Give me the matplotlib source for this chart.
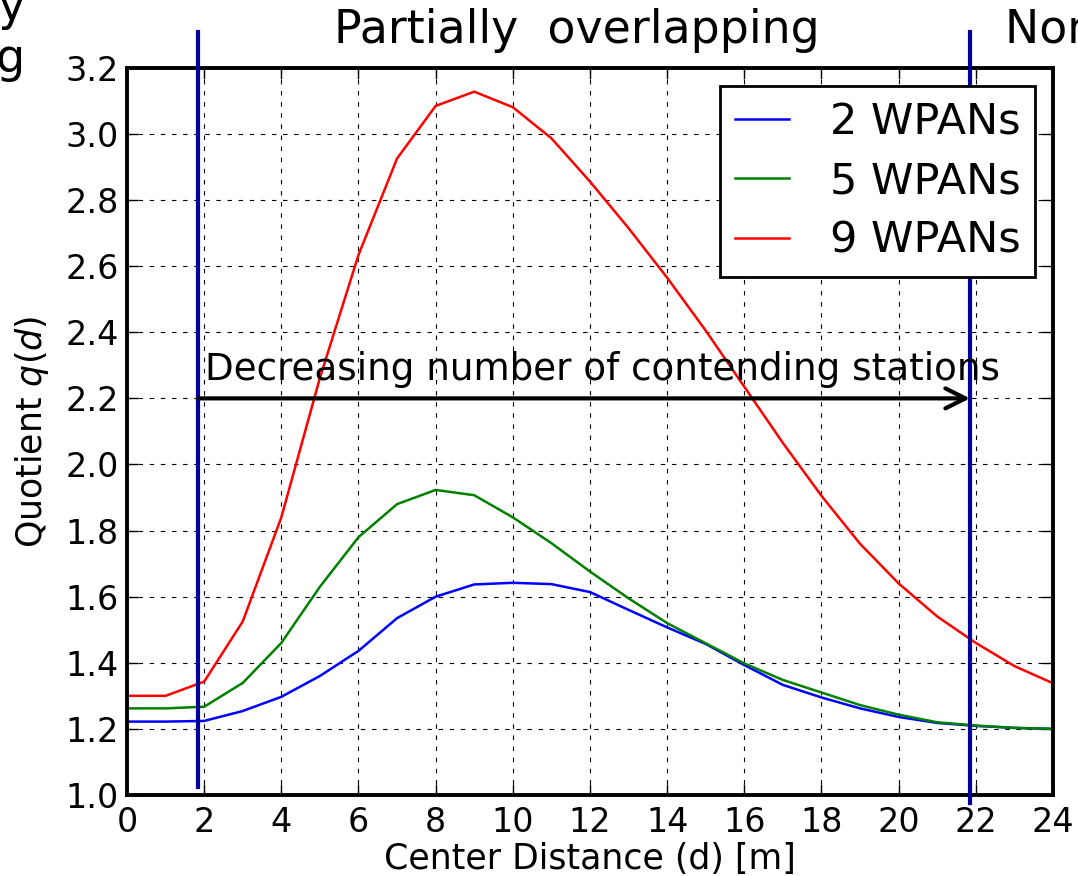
import matplotlib
matplotlib.use("Agg")
import matplotlib.pyplot as plt

# distances and quotient values
distance = list(range(0, 25))
q_2wpan = [1.222, 1.222, 1.224, 1.254, 1.297, 1.360, 1.436, 1.535, 1.600, 1.637,
           1.642, 1.638, 1.614, 1.560, 1.507, 1.457, 1.393, 1.333, 1.295, 1.262,
           1.236, 1.218, 1.209, 1.203, 1.200]
q_5wpan = [1.262, 1.262, 1.267, 1.339, 1.460, 1.630, 1.780, 1.880, 1.923, 1.907,
           1.840, 1.762, 1.676, 1.595, 1.520, 1.459, 1.398, 1.348, 1.310, 1.272,
           1.243, 1.220, 1.210, 1.203, 1.200]
q_9wpan = [1.300, 1.300, 1.343, 1.525, 1.840, 2.262, 2.634, 2.926, 3.085, 3.128,
           3.081, 2.987, 2.856, 2.715, 2.565, 2.405, 2.235, 2.065, 1.905, 1.760,
           1.640, 1.540, 1.460, 1.390, 1.338]
labels = ["2 WPANs", "5 WPANs", "9 WPANs"]
colors = ["#0000ff", "#008000", "#ff0000"]

# region borders (vertical markers)
border_x = [1.84, 21.85]
border_y_top = [3.31, 3.31]
border_y_bottom = [1.024, 0.976]

fig = plt.figure(figsize=(10.78, 8.76), dpi=100)
ax = fig.add_axes([0.1178, 0.0925, 0.859, 0.830])

for q, lab, c in zip([q_2wpan, q_5wpan, q_9wpan], labels, colors):
    ax.plot(distance, q, color=c, lw=1.8, label=lab)

for bx, yt, yb in zip(border_x, border_y_top, border_y_bottom):
    ax.plot([bx, bx], [yb, yt], color="#00009f", lw=3, clip_on=False, zorder=3)

ax.annotate("", xy=(border_x[1], 2.2), xytext=(border_x[0], 2.2),
            arrowprops=dict(arrowstyle="->", lw=3, color="black",
                            mutation_scale=36, shrinkA=0, shrinkB=0))
ax.text(2.02, 2.256, "Decreasing number of contending stations",
        fontsize=26.8, ha="left", va="baseline")

ax.text(11.65, 3.275, "Partially  overlapping", fontsize=33,
        ha="center", va="baseline", clip_on=False)
ax.text(22.76, 3.275, "Non overlapping", fontsize=33,
        ha="left", va="baseline", clip_on=False)
fig.text(0.024, 0.962, "Fully\noverlapping", fontsize=33,
         ha="right", va="center", multialignment="right")

ax.set_xlim(0, 24)
ax.set_ylim(1.0, 3.2)
ax.set_xticks(range(0, 25, 2))
ax.set_yticks([1.0 + 0.2 * i for i in range(12)])
ax.set_yticklabels([f"{1.0 + 0.2 * i:.1f}" for i in range(12)])
ax.tick_params(direction="in", length=8, width=1, labelsize=24,
               top=True, right=True)
ax.tick_params(axis="x", pad=8)
ax.tick_params(axis="y", pad=6)
ax.grid(True, color="black", linestyle=(0, (4, 6)), linewidth=0.8)
for s in ax.spines.values():
    s.set_linewidth(2.8)

ax.set_xlabel("Center Distance (d) [m]", fontsize=25, labelpad=2)
ax.set_ylabel("Quotient $q(d)$", fontsize=25, labelpad=10)

leg = ax.legend(loc="upper right", bbox_to_anchor=(0.981, 0.975),
                borderaxespad=0, fontsize=31, fancybox=False,
                handlelength=1.25, handletextpad=0.95, labelspacing=0.4,
                borderpad=0.35, framealpha=1, edgecolor="black")
leg.get_frame().set_linewidth(2)
leg.set_zorder(5)

fig.savefig("out.png", dpi=100)
